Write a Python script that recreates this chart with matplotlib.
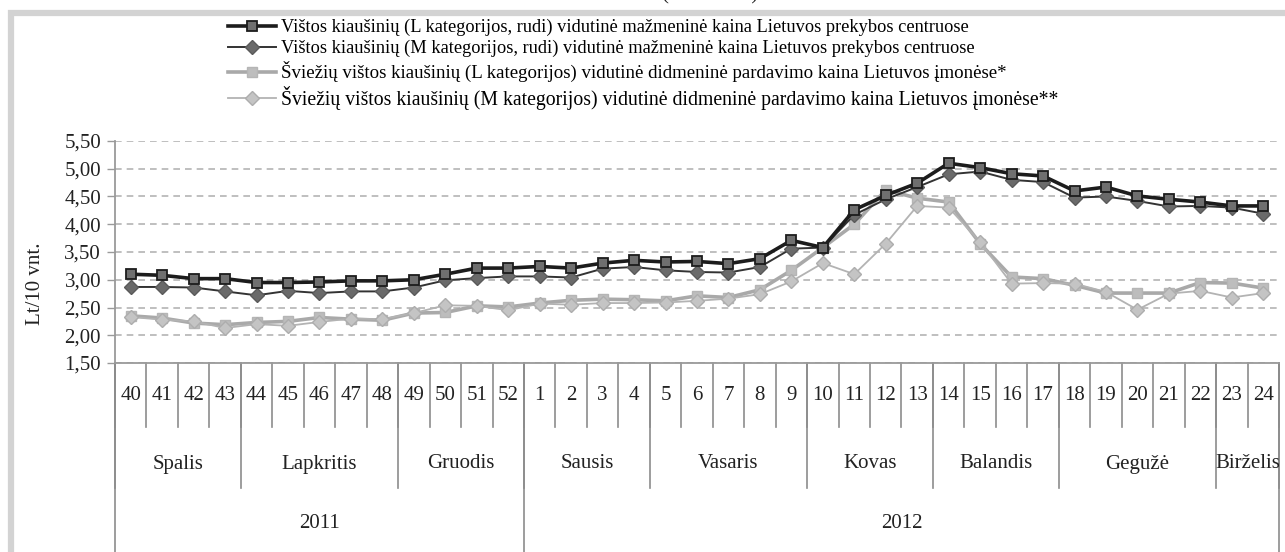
import matplotlib
matplotlib.use("Agg")
import matplotlib.pyplot as plt
from matplotlib.lines import Line2D
from matplotlib.patches import Rectangle
import matplotlib.transforms as mtransforms

plt.rcParams['font.family'] = ['Liberation Serif', 'DejaVu Serif']

weeks = [40, 41, 42, 43, 44, 45, 46, 47, 48, 49, 50, 51, 52,
         1, 2, 3, 4, 5, 6, 7, 8, 9, 10, 11, 12, 13, 14, 15, 16, 17,
         18, 19, 20, 21, 22, 23, 24]
months = ["Spalis", "Lapkritis", "Gruodis", "Sausis", "Vasaris", "Kovas",
          "Balandis", "Gegužė", "Birželis"]
month_weeks = [4, 5, 4, 4, 5, 4, 4, 5, 2]
years = ["2011", "2012"]
year_weeks = [13, 24]

labels = [
    "Vištos kiaušinių (L kategorijos, rudi) vidutinė mažmeninė kaina Lietuvos prekybos centruose",
    "Vištos kiaušinių (M kategorijos, rudi) vidutinė mažmeninė kaina Lietuvos prekybos centruose",
    "Šviežių vištos kiaušinių (L kategorijos) vidutinė didmeninė pardavimo kaina Lietuvos įmonėse*",
    "Šviežių vištos kiaušinių (M kategorijos) vidutinė didmeninė pardavimo kaina Lietuvos įmonėse**",
]

retail_L = [3.10, 3.08, 3.02, 3.02, 2.95, 2.95, 2.96, 2.98, 2.98, 3.00, 3.10, 3.21, 3.21,
            3.24, 3.21, 3.30, 3.35, 3.32, 3.33, 3.29, 3.38, 3.71, 3.58, 4.26, 4.52, 4.74,
            5.10, 5.02, 4.91, 4.87, 4.60, 4.67, 4.51, 4.45, 4.40, 4.33, 4.33]
retail_M = [2.87, 2.87, 2.86, 2.79, 2.72, 2.80, 2.76, 2.79, 2.79, 2.86, 2.99, 3.03, 3.06,
            3.06, 3.04, 3.20, 3.23, 3.17, 3.14, 3.13, 3.23, 3.56, 3.58, 4.17, 4.45, 4.67,
            4.90, 4.95, 4.80, 4.76, 4.48, 4.50, 4.42, 4.32, 4.33, 4.30, 4.19]
wholesale_L = [2.35, 2.31, 2.22, 2.19, 2.23, 2.25, 2.32, 2.29, 2.27, 2.40, 2.41, 2.53, 2.51,
               2.58, 2.63, 2.65, 2.64, 2.62, 2.71, 2.68, 2.82, 3.17, 3.58, 4.00, 4.62, 4.47,
               4.40, 3.65, 3.05, 3.02, 2.90, 2.76, 2.76, 2.76, 2.95, 2.94, 2.85]
wholesale_M = [2.33, 2.28, 2.25, 2.13, 2.20, 2.17, 2.24, 2.30, 2.29, 2.40, 2.54, 2.53, 2.45,
               2.57, 2.55, 2.58, 2.58, 2.59, 2.62, 2.66, 2.74, 2.97, 3.30, 3.10, 3.65, 4.33,
               4.30, 3.68, 2.93, 2.94, 2.93, 2.78, 2.46, 2.75, 2.80, 2.68, 2.76]

yticks = [1.5, 2.0, 2.5, 3.0, 3.5, 4.0, 4.5, 5.0, 5.5]
ylabel = "Lt/10 vnt."

W, H = 1285, 552
fig = plt.figure(figsize=(W / 100, H / 100), dpi=100)

# outer frame (partially visible)
fig.patches.append(Rectangle((11 / W, -0.1), 1.2, (552 - 12.5) / H + 0.1,
                             transform=fig.transFigure, fill=False,
                             edgecolor='#d3d3d3', linewidth=4.5, zorder=0))
# title line cut by the top edge (only the lower part of the brackets shows)
fig.text(710 / W, 1 + 1 / H, "(Lt/10 vnt.)", ha='center', va='baseline',
         fontsize=15, color='#222222')

ax_l, ax_r, ax_t, ax_b = 115, 1279, 141, 363
ax = fig.add_axes([ax_l / W, (H - ax_b) / H, (ax_r - ax_l) / W, (ax_b - ax_t) / H])
n = len(weeks)
x = list(range(n))

series = [
    dict(y=retail_L, color='#1c1c1c', lw=2.6, marker='s', ms=7.6, mfc='#6f6f6f', mec='#1c1c1c', mew=1.3, z=5),
    dict(y=retail_M, color='#333333', lw=1.4, marker='D', ms=7.0, mfc='#6a6a6a', mec='#5a5a5a', mew=1.0, z=4),
    dict(y=wholesale_L, color='#a9a9a9', lw=2.6, marker='s', ms=7.6, mfc='#bdbdbd', mec='#b5b5b5', mew=1.0, z=3),
    dict(y=wholesale_M, color='#b3b3b3', lw=1.3, marker='D', ms=7.6, mfc='#c4c4c4', mec='#adadad', mew=1.0, z=6),
]
handles = []
for s, lab in zip(series, labels):
    ln, = ax.plot(x, s['y'], color=s['color'], lw=s['lw'], marker=s['marker'], ms=s['ms'],
                  mfc=s['mfc'], mec=s['mec'], mew=s['mew'], zorder=s['z'], label=lab,
                  clip_on=False)
    handles.append(ln)

ax.set_xlim(-0.5, n - 0.5)
ax.set_ylim(1.5, 5.5)
ax.set_yticks(yticks)
ax.set_yticklabels([f"{v:.2f}".replace('.', ',') for v in yticks], fontsize=15, color='#222222')
ax.tick_params(axis='y', length=6, width=1, color='#9a9a9a', pad=4)
ax.set_xticks([])
ax.yaxis.grid(True, linestyle=(0, (4, 3)), color='#b4b4b4', linewidth=1.2)
ax.set_axisbelow(True)
for sp in ['top', 'right']:
    ax.spines[sp].set_visible(False)
for sp in ['left', 'bottom']:
    ax.spines[sp].set_color('#9a9a9a')
    ax.spines[sp].set_linewidth(1.3)

fig.text(35 / W, (H - 284) / H, ylabel, rotation=90, ha='center', va='center',
         fontsize=15, color='#222222')

# category axis table
trans = mtransforms.blended_transform_factory(ax.transData, ax.transAxes)
ph = ax_b - ax_t
def fy(px):
    return -px / ph

lc = '#8c8c8c'
for i in range(n + 1):
    ax.add_line(Line2D([i - 0.5, i - 0.5], [0, fy(64)], transform=trans, color=lc, lw=1.2, clip_on=False))
for i, w in enumerate(weeks):
    ax.text(i, fy(32), str(w), transform=trans, ha='center', va='center', fontsize=15, color='#222222')
pos = 0
bounds = [0]
for m, k in zip(months, month_weeks):
    ax.text(pos + k / 2 - 0.5, fy(101), m, transform=trans, ha='center', va='center', fontsize=15, color='#222222')
    pos += k
    bounds.append(pos)
for b in bounds:
    ax.add_line(Line2D([b - 0.5, b - 0.5], [0, fy(125)], transform=trans, color=lc, lw=1.2, clip_on=False))
pos = 0
ybounds = [0]
for yv, k in zip(years, year_weeks):
    ax.text(pos + k / 2 - 0.5, fy(161), yv, transform=trans, ha='center', va='center', fontsize=15, color='#222222')
    pos += k
    ybounds.append(pos)
for b in ybounds:
    ax.add_line(Line2D([b - 0.5, b - 0.5], [0, fy(195)], transform=trans, color=lc, lw=1.2, clip_on=False))

leg = fig.legend(handles=handles, labels=labels, loc='upper left',
                 bbox_to_anchor=(228 / W, 1 - 19 / H), frameon=False, fontsize=13.2,
                 handlelength=2.6, handletextpad=0.3, labelspacing=0.2, borderpad=0,
                 borderaxespad=0)
legend_sizes = [13.2, 13.2, 13.6, 14.2]
for t, fs in zip(leg.get_texts(), legend_sizes):
    t.set_fontsize(fs)

fig.savefig("out.png", dpi=100)
